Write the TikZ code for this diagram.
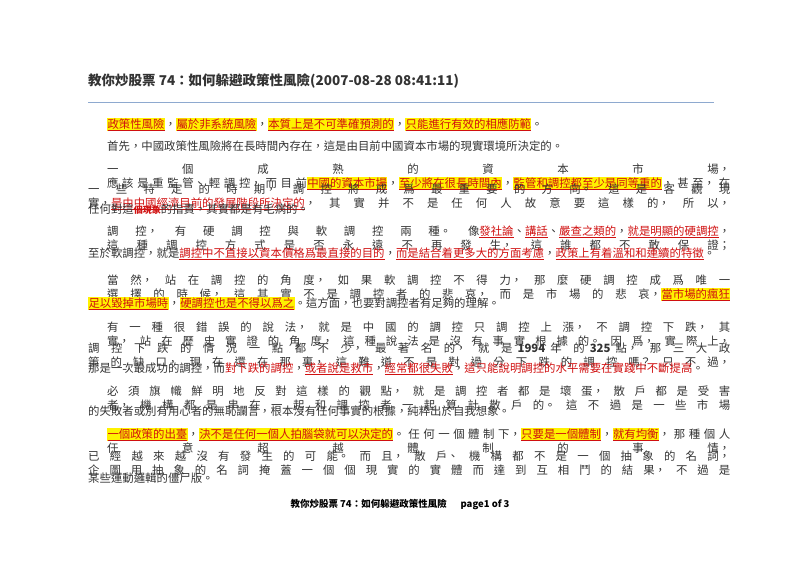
\documentclass[tikz,border=0pt]{standalone}
\usepackage{fontspec}
\setmainfont{Noto Sans CJK TC}
\usepackage{xcolor}
\usetikzlibrary{positioning}
\definecolor{txtgray}{HTML}{333333}
\definecolor{rulebl}{HTML}{8EA9CF}
\definecolor{hlred}{HTML}{D01010}
\XeTeXlinebreaklocale "zh"
\XeTeXlinebreakskip=0pt plus 6pt
\newcommand\hlt[1]{{\setlength\fboxsep{0.3pt}\colorbox{yellow}{\textcolor{hlred}{\underline{#1}}}}}
\newcommand\rdu[1]{\textcolor{hlred}{\underline{#1}}}
\newcommand\rd[1]{\textcolor{hlred}{#1}}
\tikzset{
  line/.style={anchor=base west,inner sep=0pt,font=\fontsize{11.4}{14}\selectfont,text=txtgray},
  full/.style={line,text width=#1,align=justify,execute at begin node={\parfillskip=0pt\tolerance=10000\hbadness=10000\pretolerance=10000}},
}
\begin{document}
\begin{tikzpicture}[x=1pt,y=-1pt]
  \useasboundingbox (0,0) rectangle (800,566);
  \node[line,font=\fontsize{13.5}{16}\selectfont\bfseries] (title) at (88,85) {教你炒股票 74：如何躲避政策性風險(2007-08-28 08:41:11)};
  \coordinate (rl) at (88,102);
  \coordinate (rr) at (714,102);
  \draw[rulebl,line width=1pt] (rl) -- (rr);

  \node[line] (p1) at (107,128) {\hlt{政策性風險}，\hlt{屬於非系統風險}，\hlt{本質上是不可準確預測的}，\hlt{只能進行有效的相應防範}。};
  \node[line] (p2) at (107,150) {首先，中國政策性風險將在長時間內存在，這是由目前中國資本市場的現實環境所決定的。};
  \node[full=623pt] (p3) at (107,173) {一個成熟的資本市場，應該是重監管、輕調控，而目前\hlt{中國的資本市場}，\hlt{至少將在很長時間內}，\hlt{監管和調控都至少是同等重的}，甚至，在};
  \node[full=642pt] (p4) at (88,193) {一些特定的時期，調控將成爲最重要的方向。這是客觀現實，\rdu{是由中國經濟目前的發展階段所決定的}，其實并不是任何人故意要這樣的，所以，};
  \node[line] (p5) at (88,213) {任何對這{\rd{\bfseries\small 個現象}}的指責，其實都是有毛病的。};
  \node[full=623pt] (p6) at (107,235) {調控，有硬調控與軟調控兩種。像\rdu{發社論}、\rdu{講話}、\rdu{嚴查之類的}，\rdu{就是明顯的硬調控}，這種調控方式是否永遠不再發生，這誰都不敢保證；};
  \node[line] (p7) at (88,257) {至於軟調控，就是\rdu{調控中不直接以資本價格爲最直接的目的}，\rdu{而是結合着更多大的方面考慮}，\rdu{政策上有着溫和和連續的特徵}。};
  \node[full=623pt] (p8) at (107,284) {當然，站在調控的角度，如果軟調控不得力，那麼硬調控成爲唯一選擇的時候，這其實不是調控者的悲哀，而是市場的悲哀，\hlt{當市場的瘋狂}};
  \node[line] (p9) at (88,307) {\hlt{足以毀掉市場時}，\hlt{硬調控也是不得以爲之}。這方面，也要對調控者有足夠的理解。};
  \node[full=623pt] (p10) at (107,331) {有一種很錯誤的說法，就是中國的調控只調控上漲，不調控下跌，其實，站在歷史實證的角度，這種說法是沒有事實根據的。因爲，實際上，};
  \node[full=642pt] (p11) at (88,352) {調控下跌的情況一點都不少，最著名的，就是 \textbf{1994} 年的 \textbf{325} 點，那三大政策的缺口，現在還在那裏，這難道不是對過分下跌的調控嗎？只不過，};
  \node[line] (p12) at (88,372) {那是一次最成功的調控，而\rd{對下跌的調控}，\rdu{或者說是救市}，\rdu{經常都很失敗}，\rd{這只能說明調控的水平需要在實踐中不斷提高}。};
  \node[full=623pt] (p13) at (107,395) {必須旗幟鮮明地反對這樣的觀點，就是調控者都是壞蛋，散戶都是受害者，機構都是串在一起和調控者一起算計散戶的。這不過是一些市場};
  \node[line] (p14) at (88,415) {的失敗者或別有用心者的無恥讕言，根本沒有任何事實的根據，純粹出於自我想象。};
  \node[full=623pt] (p15) at (107,438) {\hlt{一個政策的出臺}，\hlt{決不是任何一個人拍腦袋就可以決定的}。任何一個體制下，\hlt{只要是一個體制}，\hlt{就有均衡}，那種個人任意超越體制的事情，};
  \node[full=642pt] (p16) at (88,460) {已經越來越沒有發生的可能。而且，散戶、機構都不是一個抽象的名詞，企圖用抽象的名詞掩蓋一個個現實的實體而達到互相鬥的結果，不過是};
  \node[line] (p17) at (88,482) {某些運動邏輯的僵尸版。};

  \node[anchor=base,inner sep=0pt,font=\fontsize{9.5}{12}\selectfont\bfseries,text=black] (foot) at (400,507) {教你炒股票 74：如何躲避政策性風險\quad\ \ page1 of 3};
\end{tikzpicture}
\end{document}
